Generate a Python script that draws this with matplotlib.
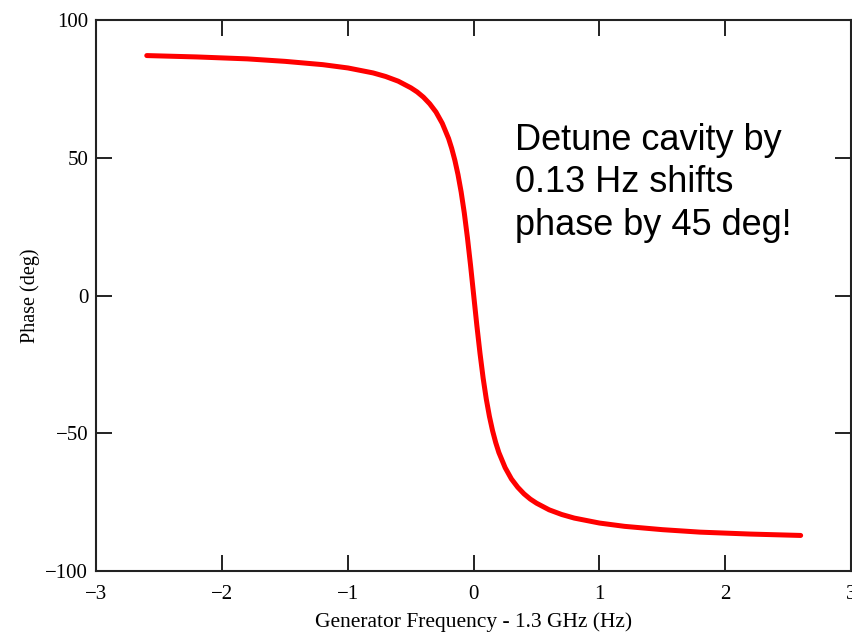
import matplotlib
matplotlib.use("Agg")
import matplotlib.pyplot as plt

# Generator frequency offset from 1.3 GHz (Hz) and measured cavity phase (deg)
freq_hz = [-2.6, -2.2, -1.8, -1.5, -1.2, -1.0, -0.8, -0.7, -0.6, -0.5, -0.45,
           -0.4, -0.35, -0.3, -0.25, -0.2, -0.175, -0.15, -0.125, -0.1, -0.075,
           -0.05, -0.025, 0.0, 0.025, 0.05, 0.075, 0.1, 0.125, 0.15, 0.175,
           0.2, 0.25, 0.3, 0.35, 0.4, 0.45, 0.5, 0.6, 0.7, 0.8, 1.0, 1.2,
           1.5, 1.8, 2.2, 2.6]
phase_deg = [87.1, 86.6, 85.9, 85.0, 83.8, 82.6, 80.8, 79.5, 77.8, 75.4, 73.9,
             72.0, 69.6, 66.6, 62.5, 57.0, 53.4, 49.1, 43.9, 37.6, 30.0,
             21.0, 10.9, 0.0, -10.9, -21.0, -30.0, -37.6, -43.9, -49.1, -53.4,
             -57.0, -62.5, -66.6, -69.6, -72.0, -73.9, -75.4, -77.8, -79.5,
             -80.8, -82.6, -83.8, -85.0, -85.9, -86.6, -87.1]

x_ticks = [-3, -2, -1, 0, 1, 2, 3]
y_ticks = [-100, -50, 0, 50, 100]

note = "Detune cavity by\n0.13 Hz shifts\nphase by 45 deg!"

serif = ["Liberation Serif", "DejaVu Serif"]

fig = plt.figure(figsize=(8.53, 6.34), dpi=100)
ax = fig.add_axes([0.1131, 0.0994, 0.8845, 0.869])

ax.plot(freq_hz, phase_deg, color="#ff0000", lw=3.6, solid_capstyle="round")

ax.set_xlim(-3, 3)
ax.set_ylim(-100, 100)
ax.set_xticks(x_ticks)
ax.set_yticks(y_ticks)
ax.tick_params(direction="in", length=11.5, width=1.4, color="#222222",
               top=True, right=True, labelsize=15)
ax.tick_params(axis="y", pad=6)
ax.tick_params(axis="x", pad=10)
for lab in ax.get_xticklabels() + ax.get_yticklabels():
    lab.set_fontfamily(serif)
for sp in ax.spines.values():
    sp.set_linewidth(1.5)
    sp.set_color("#222222")

ax.set_xlabel("Generator Frequency - 1.3 GHz (Hz)", fontsize=15.5,
              family=serif, labelpad=6)
ax.set_ylabel("Phase (deg)", fontsize=14.5, family=serif, labelpad=4)

ax.text(0.555, 0.813, note, transform=ax.transAxes, ha="left", va="top",
        fontsize=26, family=["Liberation Sans", "DejaVu Sans"],
        linespacing=1.27, color="black")

fig.savefig("out.png", dpi=100)
